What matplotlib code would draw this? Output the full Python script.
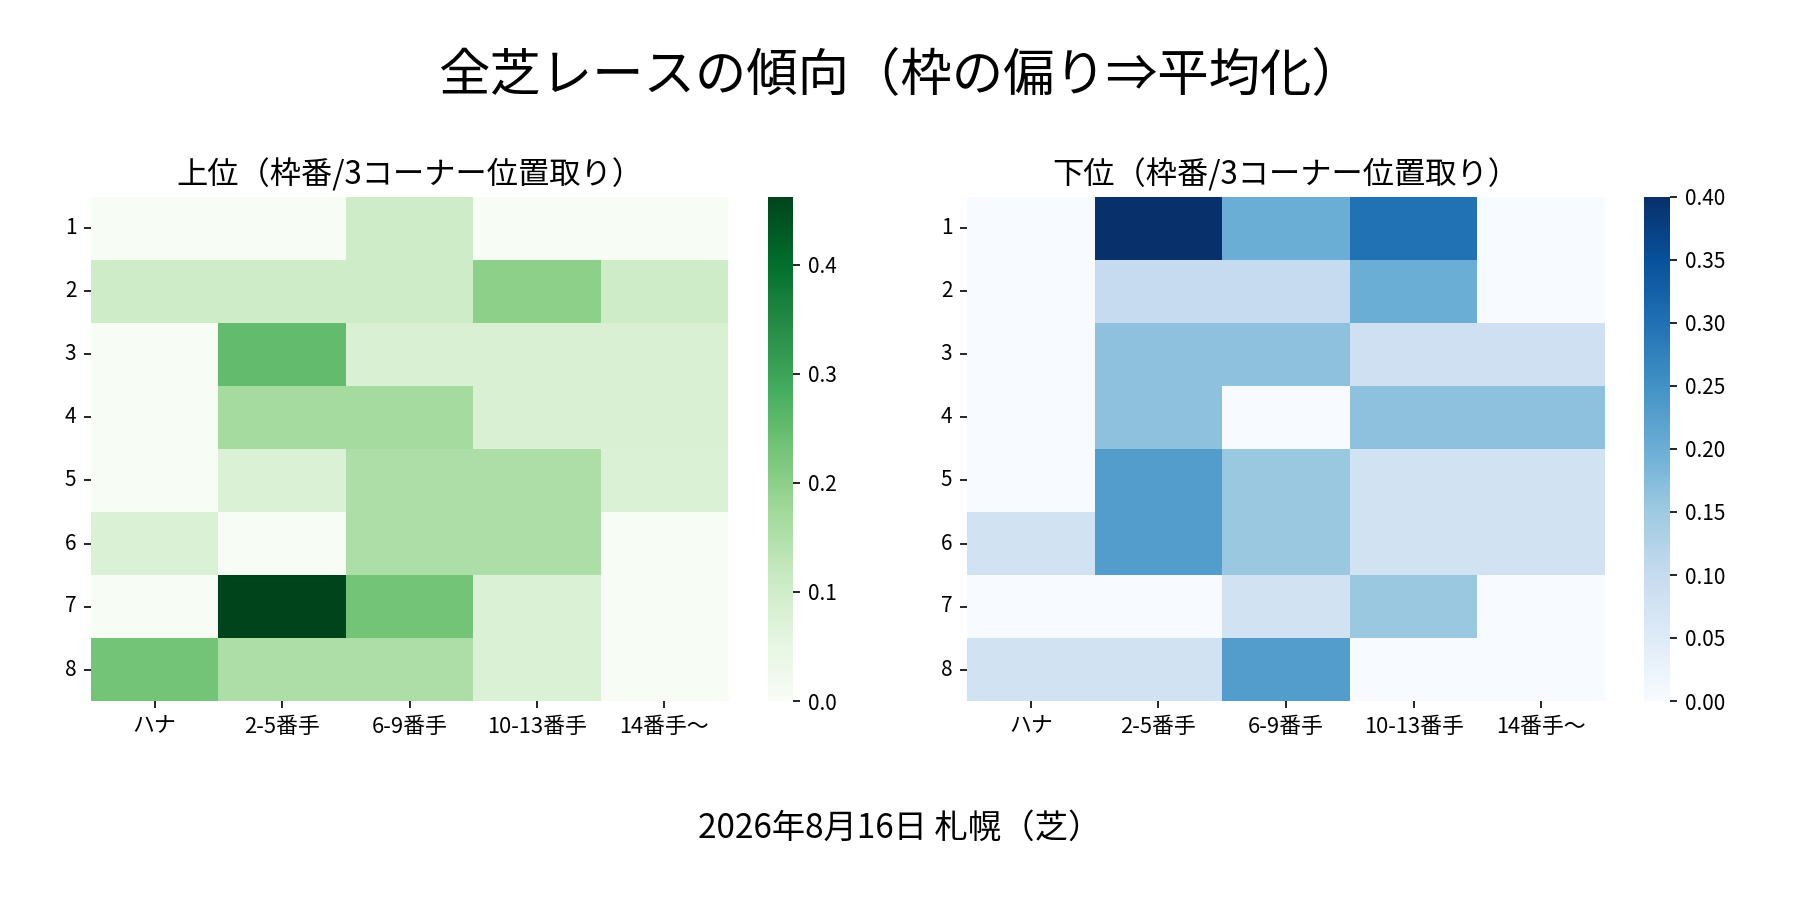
import numpy as np
import pandas as pd
import matplotlib
matplotlib.use("Agg")
import matplotlib.pyplot as plt
import seaborn as sns

plt.rcParams['font.family'] = ['Noto Sans CJK JP', 'DejaVu Sans']

# 枠番と3コーナー位置取り
waku = ["1", "2", "3", "4", "5", "6", "7", "8"]
positions = ["ハナ", "2-5番手", "6-9番手", "10-13番手", "14番手〜"]

# 上位（割合）
upper = [
    [0.0,   0.0,   0.10,  0.0,   0.0],
    [0.10,  0.10,  0.10,  0.20,  0.10],
    [0.0,   0.25,  0.083, 0.083, 0.083],
    [0.0,   0.167, 0.167, 0.083, 0.083],
    [0.0,   0.077, 0.154, 0.154, 0.077],
    [0.077, 0.0,   0.154, 0.154, 0.0],
    [0.0,   0.462, 0.231, 0.077, 0.0],
    [0.231, 0.154, 0.154, 0.077, 0.0],
]

# 下位（割合）
lower = [
    [0.0,   0.40,  0.20,  0.30,  0.0],
    [0.0,   0.10,  0.10,  0.20,  0.0],
    [0.0,   0.167, 0.167, 0.083, 0.083],
    [0.0,   0.167, 0.0,   0.167, 0.167],
    [0.0,   0.231, 0.154, 0.077, 0.077],
    [0.077, 0.231, 0.154, 0.077, 0.077],
    [0.0,   0.0,   0.077, 0.154, 0.0],
    [0.077, 0.077, 0.231, 0.0,   0.0],
]

df_up = pd.DataFrame(upper, index=waku, columns=positions)
df_lo = pd.DataFrame(lower, index=waku, columns=positions)

fig = plt.figure(figsize=(12, 6), dpi=150)
W, H = 1800, 900

def box(x0, x1, ytop, ybot):
    return [x0 / W, 1 - ybot / H, (x1 - x0) / W, (ybot - ytop) / H]

ax1 = fig.add_axes(box(91, 728, 197, 701))
cax1 = fig.add_axes(box(768, 793, 197, 701))
ax2 = fig.add_axes(box(967, 1605, 197, 701))
cax2 = fig.add_axes(box(1644, 1670, 197, 701))

sns.heatmap(df_up, cmap="Greens", ax=ax1, cbar_ax=cax1)
ax1.set_title("上位（枠番/3コーナー位置取り）", fontsize=15)

sns.heatmap(df_lo, cmap="Blues", ax=ax2, cbar_ax=cax2)
ax2.set_title("下位（枠番/3コーナー位置取り）", fontsize=15)

for ax in (ax1, ax2):
    ax.tick_params(axis="y", rotation=0)
    ax.tick_params(axis="x", rotation=0, labelsize=10.5)

fig.text(0.5, 1 - 75 / H, "全芝レースの傾向（枠の偏り⇒平均化）",
         ha="center", va="center", fontsize=24.7)
fig.text(0.5, 1 - 828 / H, "2026年8月16日 札幌（芝）",
         ha="center", va="center", fontsize=16)

fig.savefig("out.png", dpi=150)
